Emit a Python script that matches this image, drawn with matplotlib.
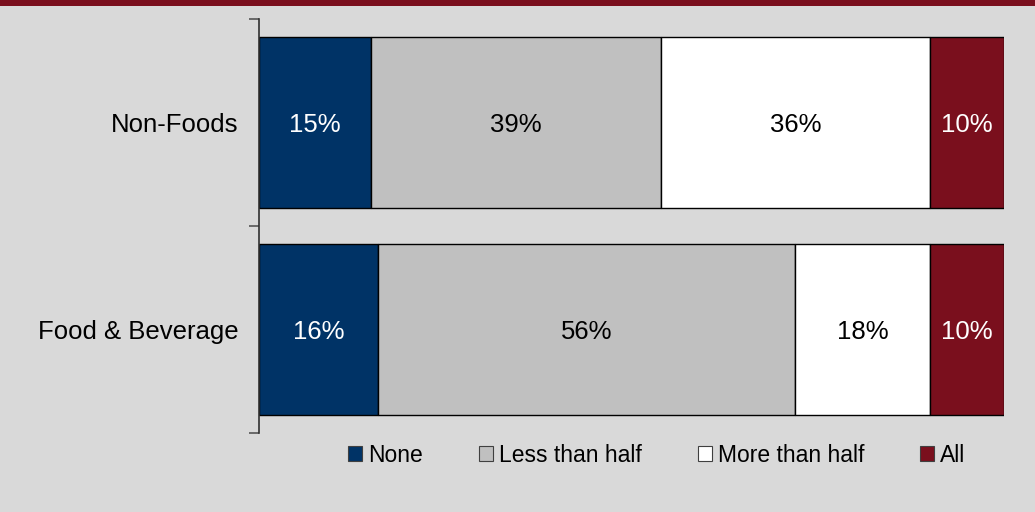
import matplotlib.pyplot as plt
from matplotlib.patches import Rectangle, Patch

plt.rcParams['font.family'] = ['Liberation Sans', 'DejaVu Sans']

categories = ['Non-Foods', 'Food & Beverage']
series_names = ['None', 'Less than half', 'More than half', 'All']
values = {
    'None': [15, 16],
    'Less than half': [39, 56],
    'More than half': [36, 18],
    'All': [10, 10],
}
colors = ['#003366', '#c0c0c0', '#ffffff', '#7a0f1d']
text_colors = ['white', 'black', 'black', 'white']

bg = '#d9d9d9'
fig = plt.figure(figsize=(10.35, 5.12), dpi=100, facecolor=bg)
ax = fig.add_axes([259 / 1035, 1 - 433 / 512, (1004 - 259) / 1035, (433 - 19) / 512])
ax.set_facecolor(bg)

# top band
fig.patches.append(Rectangle((0, 1 - 6 / 512), 1, 6 / 512, transform=fig.transFigure,
                             facecolor='#7a0f1d', edgecolor='none', zorder=0))

ypos = list(range(len(categories)))
left = [0] * len(categories)
for name, col, tcol in zip(series_names, colors, text_colors):
    vals = values[name]
    ax.barh(ypos, vals, left=left, height=0.83, color=col, edgecolor='black',
            linewidth=1, label=name)
    for y, v, l in zip(ypos, vals, left):
        ax.text(l + v / 2, y + 0.01, f"{v}%", ha='center', va='center', color=tcol, fontsize=18.5)
    left = [a + b for a, b in zip(left, vals)]

ax.set_xlim(0, 100)
ax.set_ylim(1.5, -0.5)
ax.set_yticks(ypos)
ax.set_yticklabels(categories, fontsize=18.5)
ax.tick_params(axis='y', which='major', length=0, pad=15)
ax.set_yticks([-0.5, 0.5, 1.5], minor=True)
ax.tick_params(axis='y', which='minor', length=7, width=1.3, color='#606060')
ax.set_xticks([])
for s in ['top', 'right', 'bottom']:
    ax.spines[s].set_visible(False)
ax.spines['left'].set_color('#303030')
ax.spines['left'].set_linewidth(1.2)

handles = [Patch(facecolor=c, edgecolor='#404040', linewidth=0.8) for c in colors]
fig.legend(handles, series_names, loc='center left', bbox_to_anchor=(348 / 1035, 1 - 455 / 512),
           ncol=4, frameon=False, fontsize=16.5, handlelength=0.6, handleheight=0.6,
           handletextpad=0.27, columnspacing=2.45, borderpad=0, borderaxespad=0)

fig.savefig('out.png', dpi=100, facecolor=bg)
